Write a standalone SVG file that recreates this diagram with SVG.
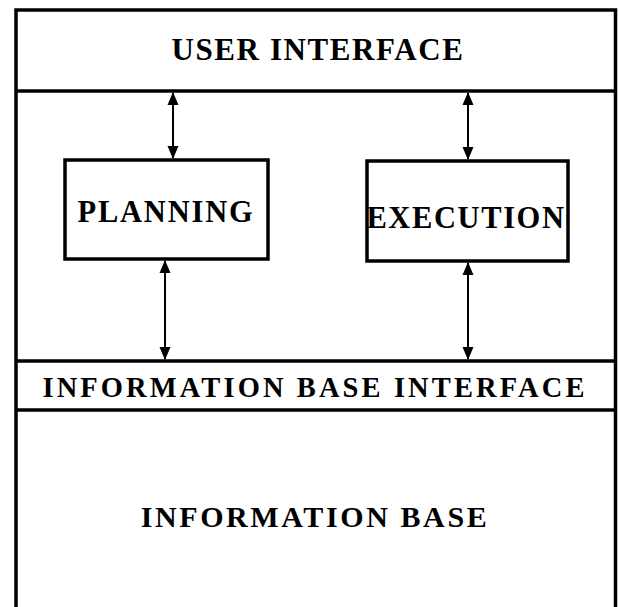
<svg xmlns="http://www.w3.org/2000/svg" width="619" height="607" viewBox="0 0 619 607">
<style>
.frame{fill:none;stroke:#000;stroke-width:3.5}
.box{fill:#fff;stroke:#000;stroke-width:3.5}
.conn{stroke:#000;stroke-width:2;fill:none}
.lbl{font-family:"Liberation Serif","DejaVu Serif",serif;font-weight:bold;fill:#000;text-anchor:middle}
</style>
<defs>
<marker id="ah" markerUnits="userSpaceOnUse" markerWidth="13" markerHeight="12" viewBox="0 0 13 12" refX="12" refY="6" orient="auto-start-reverse">
<path d="M0,0.5 L13,6 L0,11.5 Z" fill="#000"/>
</marker>
</defs>
<rect width="619" height="607" fill="#fff"/>
<g id="frame">
<path class="frame" d="M16,607 V10 H615.5 V607"/>
</g>
<g id="user-interface">
<line class="frame" x1="16" y1="91" x2="615.5" y2="91"/>
<text class="lbl" x="318" y="60" font-size="31" letter-spacing="1.6">USER INTERFACE</text>
</g>
<g id="planning">
<rect class="box" x="65" y="160" width="203" height="99"/>
<text class="lbl" x="166" y="222" font-size="30.5" letter-spacing="1.8">PLANNING</text>
</g>
<g id="execution">
<rect class="box" x="367" y="161" width="201" height="100"/>
<text class="lbl" x="466" y="228" font-size="30.5" letter-spacing="1.6">EXECUTION</text>
</g>
<g id="information-base-interface">
<line class="frame" x1="16" y1="361" x2="615.5" y2="361"/>
<line class="frame" x1="16" y1="410" x2="615.5" y2="410"/>
<text class="lbl" x="315" y="397" font-size="28.5" letter-spacing="3.1">INFORMATION BASE INTERFACE</text>
</g>
<g id="information-base">
<text class="lbl" x="315" y="527" font-size="30" letter-spacing="2.6">INFORMATION BASE</text>
</g>
<g id="connectors">
<line class="conn" x1="173" y1="93" x2="173" y2="158" marker-start="url(#ah)" marker-end="url(#ah)"/>
<line class="conn" x1="468" y1="93" x2="468" y2="159" marker-start="url(#ah)" marker-end="url(#ah)"/>
<line class="conn" x1="165" y1="261" x2="165" y2="359" marker-start="url(#ah)" marker-end="url(#ah)"/>
<line class="conn" x1="468" y1="263" x2="468" y2="359" marker-start="url(#ah)" marker-end="url(#ah)"/>
</g>
</svg>
